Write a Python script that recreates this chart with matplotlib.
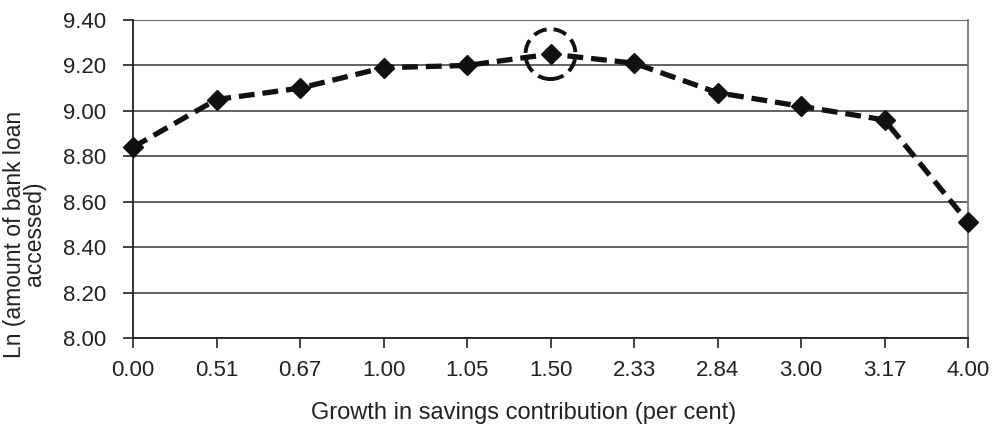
import numpy as np
import matplotlib
matplotlib.use("Agg")
import matplotlib.pyplot as plt
from matplotlib.patches import Ellipse

plt.rcParams['font.family'] = ['Liberation Sans', 'DejaVu Sans']

# data
growth_labels = ["0.00", "0.51", "0.67", "1.00", "1.05", "1.50",
                 "2.33", "2.84", "3.00", "3.17", "4.00"]
ln_loan = [8.84, 9.05, 9.10, 9.19, 9.20, 9.25, 9.21, 9.08, 9.02, 8.96, 8.51]
y_ticks = [8.00, 8.20, 8.40, 8.60, 8.80, 9.00, 9.20, 9.40]
peak_index = 5

fig = plt.figure(figsize=(9.98, 4.25), dpi=100)
ax = fig.add_axes([133 / 998, 1 - 338 / 425, (968 - 133) / 998, (338 - 20) / 425])

x = np.arange(len(growth_labels))
ax.plot(x, ln_loan, color='#111111', linewidth=3.8, linestyle=(0, (3.0, 1.5)),
        marker='D', markersize=10.5, markerfacecolor='#111111',
        markeredgecolor='#111111', zorder=3, clip_on=False)

# dashed circle around the peak
px_per_x = (968 - 133) / 10
px_per_y = (338 - 20) / 1.4
r = 25
ax.add_patch(Ellipse((peak_index, ln_loan[peak_index]), 2 * r / px_per_x, 2 * r / px_per_y,
                     fill=False, edgecolor='#111111', linewidth=2.8,
                     linestyle=(0, (3.5, 1.8)), zorder=4))

ax.set_xlim(0, len(growth_labels) - 1)
ax.set_ylim(8.0, 9.4)
ax.set_xticks(x)
ax.set_xticklabels(growth_labels)
ax.set_yticks(y_ticks)
ax.set_yticklabels(["%.2f" % v for v in y_ticks])

ax.grid(axis='y', color='#555555', linewidth=1.3)
ax.set_axisbelow(True)
ax.spines['top'].set_visible(False)
ax.spines['left'].set_color('#222222')
ax.spines['bottom'].set_color('#222222')
ax.spines['right'].set_color('#777777')
for side in ['left', 'bottom', 'right']:
    ax.spines[side].set_linewidth(1.3)

ax.tick_params(axis='both', direction='out', length=7, width=1.2, color='#222222',
               labelsize=16, labelcolor='#222222')
ax.tick_params(axis='x', pad=9)
ax.tick_params(axis='y', pad=12)

ax.set_xlabel("Growth in savings contribution (per cent)", fontsize=17,
              color='#222222')
ax.xaxis.set_label_coords(0.4677, -0.2)
ax.set_ylabel("Ln (amount of bank loan\naccessed)", fontsize=16.5,
              color='#222222', linespacing=0.85)
ax.yaxis.set_label_coords(-0.104, 0.327)

fig.savefig("out.png", dpi=100)
